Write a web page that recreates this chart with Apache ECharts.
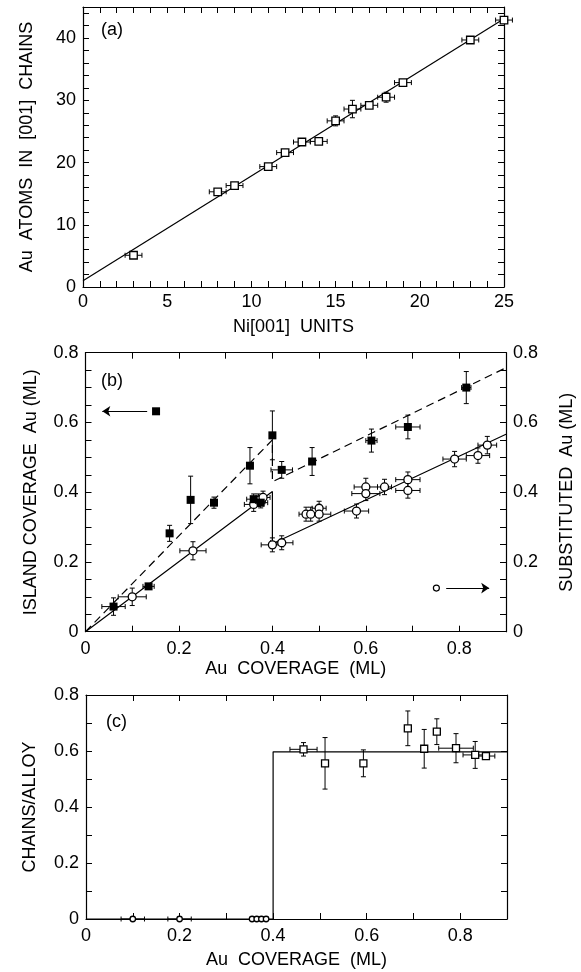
<!DOCTYPE html>
<html><head><meta charset="utf-8">
<script src="https://cdn.jsdelivr.net/npm/echarts@6/dist/echarts.min.js"></script>
<style>html,body{margin:0;padding:0;background:#fff}#c{width:581px;height:972px}</style>
</head><body><div id="c"></div>
<script>
// ---------- DATA ----------
// panel (a): [Ni units, Au atoms, xerr, yerr]
const chainPoints = [
  [3, 5.1, 0.5, 0], [8, 15.3, 0.5, 0], [9, 16.3, 0.5, 0], [11, 19.35, 0.5, 0],
  [12, 21.6, 0.5, 0.5], [13, 23.3, 0.5, 0], [14, 23.4, 0.5, 0], [15, 26.7, 0.5, 0.8],
  [16, 28.6, 0.5, 1.4], [17, 29.2, 0.5, 0], [18, 30.5, 0.5, 0.8], [19, 32.85, 0.5, 0],
  [23, 39.7, 0.5, 0], [25, 42.9, 0.5, 0]
];
const chainFit = [[0, 1.0], [25, 43.1]];
// panel (b): island coverage (filled squares) [coverage, value, xerr, yerr]
const islandPoints = [
  [0.06, 0.072, 0.025, 0.025], [0.135, 0.13, 0.012, 0.008], [0.18, 0.282, 0, 0.023],
  [0.225, 0.378, 0, 0.068], [0.275, 0.37, 0, 0.016], [0.352, 0.476, 0, 0.052],
  [0.36, 0.38, 0.015, 0.015], [0.375, 0.37, 0.015, 0.015], [0.40, 0.563, 0, 0.07],
  [0.42, 0.464, 0.023, 0.024], [0.485, 0.488, 0, 0.04], [0.612, 0.548, 0.012, 0.033],
  [0.69, 0.587, 0.026, 0.034], [0.815, 0.70, 0.01, 0.046]
];
// panel (b): substituted Au (open circles)
const substPoints = [
  [0.10, 0.10, 0.03, 0.025], [0.23, 0.232, 0.028, 0.026], [0.36, 0.365, 0.02, 0.02],
  [0.37, 0.377, 0.015, 0.018], [0.38, 0.385, 0.015, 0.018], [0.40, 0.249, 0.024, 0.02],
  [0.42, 0.255, 0.024, 0.02], [0.472, 0.337, 0.015, 0.02], [0.482, 0.337, 0.015, 0.02],
  [0.50, 0.354, 0.015, 0.02], [0.50, 0.337, 0.025, 0.02], [0.58, 0.346, 0.026, 0.02],
  [0.60, 0.415, 0.025, 0.025], [0.60, 0.396, 0.03, 0.02], [0.64, 0.415, 0.015, 0.022],
  [0.69, 0.436, 0.026, 0.022], [0.69, 0.405, 0.026, 0.022], [0.79, 0.495, 0.025, 0.022],
  [0.84, 0.505, 0.025, 0.022], [0.86, 0.535, 0.02, 0.025]
];
const islandFit = [[0, 0], [0.40, 0.55], [0.40, 0.43], [0.90, 0.757]];
const substFit = [[0, 0], [0.40, 0.402], [0.40, 0.252], [0.90, 0.566]];
const islandKey = [[0.151, 0.632]];
const islandArrow = [[0.132, 0.632], [0.036, 0.632]];
const substKey = [[0.751, 0.125]];
const substArrow = [[0.772, 0.125], [0.864, 0.125]];
// panel (c): chains/alloy ratio
const ratioPoints = [
  [0.10, 0, 0.025, 0], [0.20, 0, 0.025, 0],
  [0.355, 0, 0, 0], [0.365, 0, 0, 0], [0.375, 0, 0, 0], [0.385, 0, 0, 0],
  [0.465, 0.606, 0.029, 0.024], [0.511, 0.556, 0, 0.092], [0.593, 0.556, 0, 0.048],
  [0.688, 0.681, 0, 0.062], [0.723, 0.608, 0, 0.069], [0.75, 0.669, 0, 0.046],
  [0.791, 0.61, 0.037, 0.052], [0.832, 0.586, 0.026, 0.048], [0.855, 0.582, 0.019, 0]
];
const ratioStep = [[0, 0], [0.40, 0], [0.40, 0.597], [0.90, 0.597]];

// ---------- CHART ----------
const FONT = 'Liberation Sans';
const FS = 18;
const chart = echarts.init(document.getElementById('c'), null, {renderer: 'canvas'});

function errRender(params, api) {
  const x = api.value(0), y = api.value(1), ex = api.value(2), ey = api.value(3);
  const st = {stroke: '#000', lineWidth: 1};
  const cap = 2.5;
  const ch = [];
  if (ex > 0) {
    const a = api.coord([x - ex, y]), b = api.coord([x + ex, y]);
    ch.push({type: 'line', shape: {x1: a[0], y1: a[1], x2: b[0], y2: b[1]}, style: st});
    ch.push({type: 'line', shape: {x1: a[0], y1: a[1] - cap, x2: a[0], y2: a[1] + cap}, style: st});
    ch.push({type: 'line', shape: {x1: b[0], y1: b[1] - cap, x2: b[0], y2: b[1] + cap}, style: st});
  }
  if (ey > 0) {
    const a = api.coord([x, y - ey]), b = api.coord([x, y + ey]);
    ch.push({type: 'line', shape: {x1: a[0], y1: a[1], x2: b[0], y2: b[1]}, style: st});
    ch.push({type: 'line', shape: {x1: a[0] - cap, y1: a[1], x2: a[0] + cap, y2: a[1]}, style: st});
    ch.push({type: 'line', shape: {x1: b[0] - cap, y1: b[1], x2: b[0] + cap, y2: b[1]}, style: st});
  }
  return {type: 'group', children: ch};
}

function lineAx() { return {show: true, onZero: false, lineStyle: {color: '#000', width: 1.2}}; }
function tickAx() { return {show: true, inside: true, length: 6, lineStyle: {color: '#000', width: 1}}; }
const lblBase = {color: '#000', fontFamily: FONT, fontSize: FS};
const nameBase = {color: '#000', fontFamily: FONT, fontSize: FS};

function evenTenth(v) {
  const k = Math.round(v * 10);
  if (Math.abs(v * 10 - k) > 1e-6 || k % 2) return '';
  return k === 0 ? '0' : (k / 10).toFixed(1);
}

function xAx(grid, pos, min, max, interval, fmt, name, gap, margin) {
  const show = pos === 'bottom';
  return {
    type: 'value', gridIndex: grid, position: pos, min, max, interval,
    axisLine: lineAx(), axisTick: tickAx(), splitLine: {show: false},
    axisLabel: show ? Object.assign({show: true, formatter: fmt, margin: margin}, lblBase) : {show: false},
    name: show ? name : '', nameLocation: 'middle', nameGap: gap, nameTextStyle: nameBase
  };
}
function yAx(grid, pos, min, max, interval, fmt, showLbl, name, gap) {
  return {
    type: 'value', gridIndex: grid, position: pos, min, max, interval,
    axisLine: lineAx(), axisTick: tickAx(), splitLine: {show: false},
    axisLabel: showLbl ? Object.assign({show: true, formatter: fmt, margin: 7}, lblBase) : {show: false},
    name: name || '', nameLocation: 'middle', nameGap: gap || 0, nameRotate: 90, nameTextStyle: nameBase
  };
}

const fmtA_x = v => (Math.round(v) % 5 === 0 ? String(Math.round(v)) : '');
const fmtA_y = v => (Math.round(v) % 10 === 0 && Math.abs(v - Math.round(v)) < 1e-6 && v <= 40 ? String(Math.round(v)) : '');

const arrowLine = (pts) => ({
  silent: true, symbol: ['none', 'arrow'], symbolSize: 8, label: {show: false},
  lineStyle: {color: '#000', width: 1, type: 'solid'},
  data: [[{coord: pts[0]}, {coord: pts[1]}]]
});

const option = {
  animation: false,
  backgroundColor: '#fff',
  grid: [
    {left: 83, top: 7, width: 421, height: 280, containLabel: false, outerBoundsMode: 'none'},
    {left: 85.5, top: 352.7, width: 420.5, height: 279, containLabel: false, outerBoundsMode: 'none'},
    {left: 86, top: 695, width: 421, height: 224, containLabel: false, outerBoundsMode: 'none'}
  ],
  xAxis: [
    xAx(0, 'bottom', 0, 25, 1, fmtA_x, 'Ni[001]  UNITS', 31, 6),
    xAx(0, 'top', 0, 25, 1, null, '', 0, 0),
    xAx(1, 'bottom', 0, 0.9, 0.1, evenTenth, 'Au  COVERAGE  (ML)', 28, 8),
    xAx(1, 'top', 0, 0.9, 0.1, null, '', 0, 0),
    xAx(2, 'bottom', 0, 0.9, 0.1, evenTenth, 'Au  COVERAGE  (ML)', 32, 8),
    xAx(2, 'top', 0, 0.9, 0.1, null, '', 0, 0)
  ],
  yAxis: [
    yAx(0, 'left', 0, 45, 2, fmtA_y, true, 'Au  ATOMS  IN  [001]  CHAINS', 47),
    yAx(0, 'right', 0, 45, 2, null, false),
    yAx(1, 'left', 0, 0.8, 0.05, evenTenth, true, 'ISLAND COVERAGE  Au (ML)', 45),
    yAx(1, 'right', 0, 0.8, 0.05, evenTenth, true, 'SUBSTITUTED  Au (ML)', 52),
    yAx(2, 'left', 0, 0.8, 0.1, evenTenth, true, 'CHAINS/ALLOY', 47),
    yAx(2, 'right', 0, 0.8, 0.1, null, false)
  ],
  graphic: [
    {type: 'text', left: 101, top: 21, style: {text: '(a)', font: FS + 'px ' + FONT, fill: '#000'}},
    {type: 'text', left: 101, top: 372, style: {text: '(b)', font: FS + 'px ' + FONT, fill: '#000'}},
    {type: 'text', left: 106, top: 713, style: {text: '(c)', font: FS + 'px ' + FONT, fill: '#000'}}
  ],
  series: [
    // (a)
    {type: 'line', xAxisIndex: 0, yAxisIndex: 0, data: chainFit, symbol: 'none', lineStyle: {color: '#000', width: 1.2}, z: 1, silent: true},
    {type: 'custom', xAxisIndex: 0, yAxisIndex: 0, data: chainPoints, renderItem: errRender, encode: {x: 0, y: 1}, z: 2, silent: true},
    {type: 'scatter', xAxisIndex: 0, yAxisIndex: 0, data: chainPoints, encode: {x: 0, y: 1}, symbol: 'rect', symbolSize: 7.5,
      itemStyle: {color: '#fff', borderColor: '#000', borderWidth: 1.3, opacity: 1}, z: 3, silent: true},
    // (b)
    {type: 'line', xAxisIndex: 2, yAxisIndex: 2, data: islandFit, symbol: 'none', lineStyle: {color: '#000', width: 1.2, type: [8, 5]}, z: 1, silent: true},
    {type: 'line', xAxisIndex: 2, yAxisIndex: 2, data: substFit, symbol: 'none', lineStyle: {color: '#000', width: 1.2}, z: 1, silent: true},
    {type: 'custom', xAxisIndex: 2, yAxisIndex: 2, data: islandPoints, renderItem: errRender, encode: {x: 0, y: 1}, z: 2, silent: true},
    {type: 'custom', xAxisIndex: 2, yAxisIndex: 2, data: substPoints, renderItem: errRender, encode: {x: 0, y: 1}, z: 2, silent: true},
    {type: 'scatter', xAxisIndex: 2, yAxisIndex: 2, data: substPoints, encode: {x: 0, y: 1}, symbol: 'circle', symbolSize: 8,
      itemStyle: {color: '#fff', borderColor: '#000', borderWidth: 1.3, opacity: 1}, z: 3, silent: true},
    {type: 'scatter', xAxisIndex: 2, yAxisIndex: 2, data: islandPoints, encode: {x: 0, y: 1}, symbol: 'rect', symbolSize: 8,
      itemStyle: {color: '#000', opacity: 1}, z: 4, silent: true},
    {type: 'scatter', xAxisIndex: 2, yAxisIndex: 2, data: islandKey, symbol: 'rect', symbolSize: 8,
      itemStyle: {color: '#000', opacity: 1}, z: 4, silent: true, markLine: arrowLine(islandArrow)},
    {type: 'scatter', xAxisIndex: 2, yAxisIndex: 2, data: substKey, symbol: 'circle', symbolSize: 6,
      itemStyle: {color: '#fff', borderColor: '#000', borderWidth: 1.2, opacity: 1}, z: 4, silent: true, markLine: arrowLine(substArrow)},
    // (c)
    {type: 'line', xAxisIndex: 4, yAxisIndex: 4, data: ratioStep, symbol: 'none', lineStyle: {color: '#000', width: 1.2}, z: 1, silent: true},
    {type: 'custom', xAxisIndex: 4, yAxisIndex: 4, data: ratioPoints, renderItem: errRender, encode: {x: 0, y: 1}, z: 2, silent: true},
    {type: 'scatter', xAxisIndex: 4, yAxisIndex: 4, data: ratioPoints, encode: {x: 0, y: 1},
      symbol: v => (v[1] === 0 ? 'circle' : 'rect'), symbolSize: v => (v[1] === 0 ? 5.5 : 7),
      itemStyle: {color: '#fff', borderColor: '#000', borderWidth: 1.3, opacity: 1}, z: 3, silent: true}
  ]
};
chart.setOption(option);
</script>
</body></html>
